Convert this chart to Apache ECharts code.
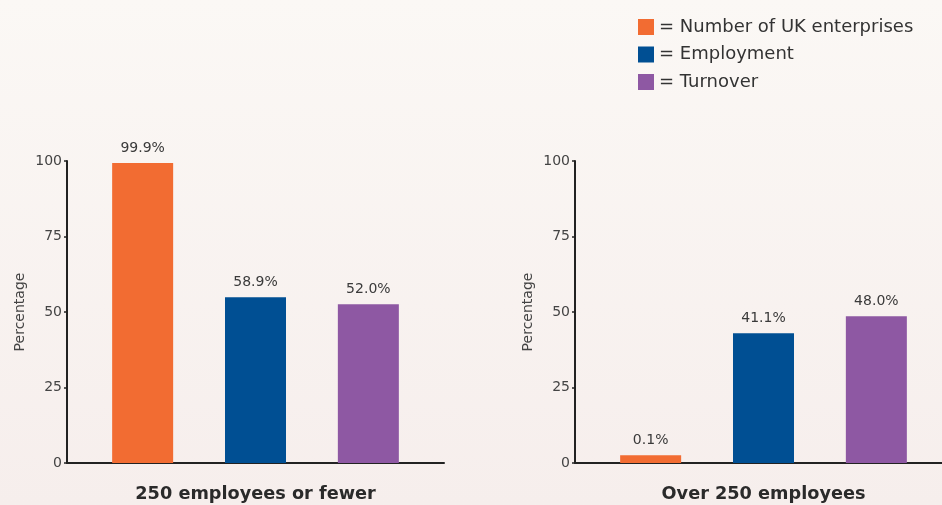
<!DOCTYPE html>
<html>
<head>
<meta charset="utf-8">
<style>
  html, body { margin: 0; padding: 0; }
  #chart { width: 942px; height: 505px; }
</style>
<script src="https://cdn.jsdelivr.net/npm/echarts@6/dist/echarts.min.js"></script>
</head>
<body>
<div id="chart"></div>
<script>
// groups (one panel each)
var groups = ['250 employees or fewer', 'Over 250 employees'];
var seriesNames = ['Number of UK enterprises', 'Employment', 'Turnover'];
// bar heights as drawn in the picture, [small firms, large firms]
var enterprises = [99.3, 2.6];
var employment = [54.9, 43.0];
var turnover = [52.6, 48.6];
// printed labels
var enterprisesText = ['99.9%', '0.1%'];
var employmentText = ['58.9%', '41.1%'];
var turnoverText = ['52.0%', '48.0%'];
var yTicks = [0, 25, 50, 75, 100];

var colors = ['#f26c32', '#004f93', '#8e58a3'];
var font = 'DejaVu Sans';

var chart = echarts.init(document.getElementById('chart'));

var grids = [
    { left: 67, top: 161, width: 377, bottom: 42, outerBoundsMode: 'none' },
    { left: 575, top: 161, width: 377, bottom: 42, outerBoundsMode: 'none' }
];

function makeX(i) {
    return {
        type: 'category',
        gridIndex: i,
        data: [groups[i]],
        axisLine: { lineStyle: { color: '#222', width: 2 } },
        axisTick: { show: false },
        axisLabel: {
            margin: 22,
            fontFamily: font,
            fontWeight: 'bold',
            fontSize: 17.7,
            color: '#2a2a2a'
        }
    };
}

function makeY(i) {
    return {
        type: 'value',
        gridIndex: i,
        min: yTicks[0],
        max: yTicks[yTicks.length - 1],
        interval: 25,
        name: 'Percentage',
        nameLocation: 'middle',
        nameGap: 40,
        nameTextStyle: { fontFamily: font, fontSize: 14, color: '#444' },
        splitLine: { show: false },
        axisLine: { show: true, lineStyle: { color: '#222', width: 2 } },
        axisTick: { show: true, length: 3, lineStyle: { color: '#222', width: 1.5 } },
        axisLabel: { margin: 5, fontFamily: font, fontSize: 14, color: '#444' }
    };
}

var values = [enterprises, employment, turnover];
var texts = [enterprisesText, employmentText, turnoverText];

var series = [];
for (var g = 0; g < groups.length; g++) {
    for (var s = 0; s < seriesNames.length; s++) {
        series.push({
            name: seriesNames[s],
            type: 'bar',
            xAxisIndex: g,
            yAxisIndex: g,
            barWidth: 61,
            barGap: '85%',
            itemStyle: { color: colors[s] },
            data: [values[s][g]],
            label: {
                show: true,
                position: 'top',
                distance: 8,
                fontFamily: font,
                fontSize: 14,
                color: '#3a3a3a',
                formatter: (function (t, gi) {
                    return function () { return t[gi]; };
                })(texts[s], g)
            }
        });
    }
}

option = {
    backgroundColor: {
        type: 'linear', x: 0, y: 0, x2: 0, y2: 1,
        colorStops: [
            { offset: 0, color: '#fbf8f5' },
            { offset: 1, color: '#f6eeec' }
        ]
    },
    animation: false,
    legend: {
        orient: 'vertical',
        left: 638,
        top: 18,
        padding: 0,
        itemWidth: 16,
        itemHeight: 16,
        itemGap: 9.5,
        itemTextGap: 8,
        icon: 'rect',
        data: seriesNames,
        formatter: '= {name}',
        textStyle: { fontFamily: font, fontSize: 18, color: '#333', lineHeight: 16 }
    },
    grid: grids,
    xAxis: [makeX(0), makeX(1)],
    yAxis: [makeY(0), makeY(1)],
    series: series
};
chart.setOption(option);
</script>
</body>
</html>
